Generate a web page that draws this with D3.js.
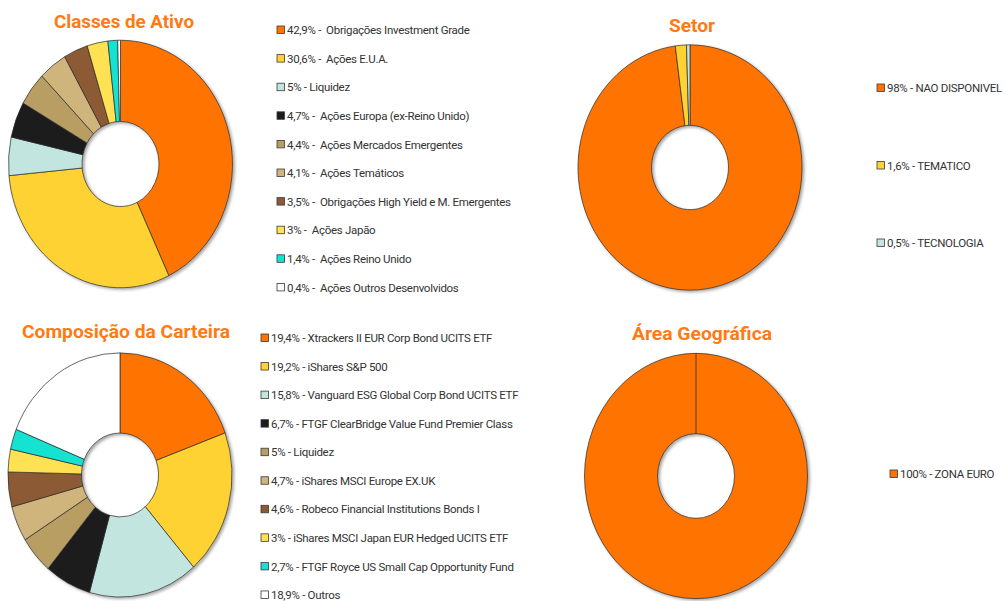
<!DOCTYPE html>
<html><head><meta charset="utf-8">
<script src="https://cdn.jsdelivr.net/npm/d3@7"></script>
<style>
html,body{margin:0;padding:0;background:#fff;}
svg{display:block;}
.title{font-family:Roboto,"Noto Sans",sans-serif;font-weight:bold;fill:#FF7A12;text-anchor:middle;}
.leg{font-family:Roboto,"Noto Sans",sans-serif;fill:#333;font-size:11.5px;letter-spacing:-0.3px;white-space:pre;}
</style></head>
<body>
<svg id="chart" width="1006" height="601"></svg>
<script>
// ---- data ----
const classesLabels = ["Obrigações Investment Grade","Ações E.U.A.","Liquidez","Ações Europa (ex-Reino Unido)","Ações Mercados Emergentes","Ações Temáticos","Obrigações High Yield e M. Emergentes","Ações Japão","Ações Reino Unido","Ações Outros Desenvolvidos"];
const classesValues = [42.9,30.6,5,4.7,4.4,4.1,3.5,3,1.4,0.4];
const classesSep = ["-  ","-  ","- ","-  ","-  ","-  ","-  ","-  ","-  ","-  "];

const setorLabels = ["NAO DISPONIVEL","TEMATICO","TECNOLOGIA"];
const setorValues = [98,1.6,0.5];

const compLabels = ["Xtrackers II EUR Corp Bond UCITS ETF","iShares S&P 500","Vanguard ESG Global Corp Bond UCITS ETF","FTGF ClearBridge Value Fund Premier Class","Liquidez","iShares MSCI Europe EX.UK","Robeco Financial Institutions Bonds I","iShares MSCI Japan EUR Hedged UCITS ETF","FTGF Royce US Small Cap Opportunity Fund","Outros"];
const compValues = [19.4,19.2,15.8,6.7,5,4.7,4.6,3,2.7,18.9];

const geoLabels = ["ZONA EURO"];
const geoValues = [100];

const palette = ["#FF7300","#FDD231","#C2E5E0","#1B1C1D","#B99E63","#CFB47B","#8C5A34","#FEE253","#17E2D2","#FFFFFF"];

// ---- drawing ----
const svg = d3.select("#chart");
const defs = svg.append("defs");
const f = defs.append("filter").attr("id","sh").attr("x","-10%").attr("y","-10%").attr("width","125%").attr("height","125%");
f.append("feDropShadow").attr("dx",2).attr("dy",1.5).attr("stdDeviation",1.5).attr("flood-color","#000").attr("flood-opacity",0.35);

const fmt = v => String(v).replace(".", ",");

function donut(values, cx, cy, rOuter, rInner, yScale, fullLine) {
  const g = svg.append("g").attr("transform",`translate(${cx},${cy}) scale(1,${yScale})`);
  const pie = d3.pie().sort(null).value(d => d);
  const arc = d3.arc().innerRadius(rInner).outerRadius(rOuter);
  const gg = g.append("g").attr("filter","url(#sh)");
  gg.selectAll("path").data(pie(values)).join("path")
    .attr("d", arc)
    .attr("fill", (d,i) => palette[i])
    .attr("stroke","#2b2b2b").attr("stroke-width",0.7)
    .attr("vector-effect","non-scaling-stroke");
  if (fullLine) {
    const p = pie(values)[0];
    const a = p.startAngle;
    g.append("line")
      .attr("x1", Math.sin(a)*rInner).attr("y1", -Math.cos(a)*rInner)
      .attr("x2", Math.sin(a)*rOuter).attr("y2", -Math.cos(a)*rOuter)
      .attr("stroke","#2b2b2b").attr("stroke-width",0.8)
      .attr("vector-effect","non-scaling-stroke");
  }
}

function legend(labels, values, x, y0, dy, sepFn) {
  const g = svg.append("g");
  labels.forEach((l,i) => {
    const y = y0 + i*dy;
    g.append("rect").attr("x",x).attr("y",y-4).attr("width",7.5).attr("height",7.5)
      .attr("fill",palette[i]).attr("stroke","#3a3a3a").attr("stroke-width",0.8);
    g.append("text").attr("class","leg").attr("x",x+10).attr("y",y).attr("dy","0.36em")
      .attr("xml:space","preserve")
      .text(fmt(values[i]) + "% " + sepFn(i) + l);
  });
}

function title(t, x, y, w) {
  svg.append("text").attr("class","title").attr("x",x).attr("y",y)
    .attr("font-size",19).text(t)
    .attr("textLength", w).attr("lengthAdjust","spacingAndGlyphs");
}

title("Classes de Ativo", 124, 28, 140);
title("Setor", 692, 32, 46);
title("Composição da Carteira", 126, 338, 208);
title("Área Geográfica", 702, 340, 140);

donut(classesValues, 120.5, 164, 112, 38.5, 1.105, false);
donut(setorValues, 690, 167.5, 112, 38.5, 1.095, false);
donut(compValues, 120, 475, 112, 38.5, 1.09, false);
donut(geoValues, 696, 476, 111.5, 38.5, 1.1, true);

legend(classesLabels, classesValues, 277, 30, 28.6, i => classesSep[i]);
legend(compLabels, compValues, 261, 338, 28.55, i => "- ");
legend(setorLabels, setorValues, 877, 88, 77.5, i => "- ");
legend(geoLabels, geoValues, 890, 474, 28.6, i => "- ");
</script>
</body></html>
